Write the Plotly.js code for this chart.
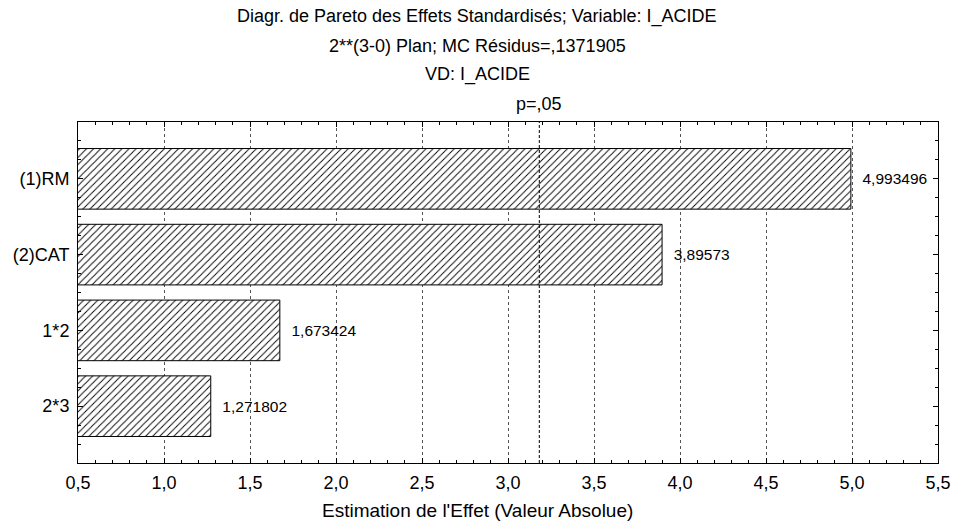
<!DOCTYPE html>
<html>
<head>
<meta charset="utf-8">
<script src="https://cdn.plot.ly/plotly-3.0.1.min.js"></script>
<style>html,body{margin:0;padding:0;background:#fff;}#chart{width:955px;height:524px;}</style>
</head>
<body>
<div id="chart"></div>
<script>
const effects = ["(1)RM", "(2)CAT", "1*2", "2*3"];
const values = [4.993496, 3.89573, 1.673424, 1.271802];
const pCritical = 3.182;
const xTicks = [0.5, 1.0, 1.5, 2.0, 2.5, 3.0, 3.5, 4.0, 4.5, 5.0, 5.5];
const titleLines = ["Diagr. de Pareto des Effets Standardisés; Variable: I_ACIDE", "2**(3-0) Plan; MC Résidus=,1371905", "VD: I_ACIDE"];
const pLabel = "p=,05";
const xTitle = "Estimation de l'Effet (Valeur Absolue)";

const positions = effects.map((_, i) => i);
const font = "Liberation Sans, Arial, sans-serif";
const cx = (477 - 78) / 860;

const trace = {
  type: 'bar',
  orientation: 'h',
  x: values,
  y: positions,
  base: 0,
  width: 0.8,
  text: values.map(v => '\u00a0\u00a0' + String(v).replace('.', ',')),
  textposition: 'outside',
  textfont: {family: font, size: 15.5, color: '#000'},
  cliponaxis: false,
  marker: {
    color: '#fff',
    line: {color: '#000', width: 1},
    pattern: {shape: '/', fgcolor: '#000', bgcolor: '#fff', size: 5, solidity: 0.18}
  },
  hoverinfo: 'x+y'
};

const layout = {
  width: 955, height: 524,
  margin: {l: 78, r: 17, t: 122, b: 61},
  paper_bgcolor: '#fff', plot_bgcolor: '#fff',
  separators: ', ',
  showlegend: false,
  font: {family: font, size: 18, color: '#000'},
  xaxis: {
    range: [0.5, 5.5],
    tickvals: xTicks,
    ticktext: xTicks.map(v => v.toFixed(1).replace('.', ',')),
    ticks: 'inside', ticklen: 5, tickcolor: '#000',
    showline: true, linecolor: '#000', linewidth: 1, mirror: 'ticks',
    showgrid: true, gridcolor: '#555', griddash: 'dot', gridwidth: 1,
    zeroline: false,
    minor: {dtick: 0.1, ticks: 'inside', ticklen: 3, tickcolor: '#000', showgrid: false},
    tickfont: {size: 18},
    ticklabelstandoff: 3
  },
  yaxis: {
    range: [3.75, -0.75],
    tickvals: positions,
    ticktext: effects,
    ticks: 'inside', ticklen: 5, tickcolor: '#000',
    showline: true, linecolor: '#000', linewidth: 1, mirror: 'ticks',
    showgrid: false, zeroline: false,
    minor: {dtick: 0.25, tick0: 0, ticks: 'inside', ticklen: 3, tickcolor: '#000', showgrid: false},
    tickfont: {size: 18},
    ticklabelstandoff: 4
  },
  shapes: [{
    type: 'line', xref: 'x', yref: 'paper', x0: pCritical, x1: pCritical, y0: 0, y1: 1,
    line: {color: '#000', width: 1, dash: '3px,2px'}
  }],
  annotations: [
    {text: titleLines[0], xref: 'paper', yref: 'paper', x: cx, y: 1, yanchor: 'middle', yshift: 106, showarrow: false, font: {size: 18}},
    {text: titleLines[1], xref: 'paper', yref: 'paper', x: cx, y: 1, yanchor: 'middle', yshift: 76, showarrow: false, font: {size: 18}},
    {text: titleLines[2], xref: 'paper', yref: 'paper', x: cx, y: 1, yanchor: 'middle', yshift: 48, showarrow: false, font: {size: 18}},
    {text: pLabel, xref: 'x', yref: 'paper', x: pCritical, y: 1, yanchor: 'middle', yshift: 18, showarrow: false, font: {size: 18}},
    {text: xTitle, xref: 'paper', yref: 'paper', x: cx, y: 0, yanchor: 'middle', yshift: -47, showarrow: false, font: {size: 19}}
  ]
};

Plotly.newPlot('chart', [trace], layout, {displayModeBar: false, staticPlot: true});
</script>
</body>
</html>
